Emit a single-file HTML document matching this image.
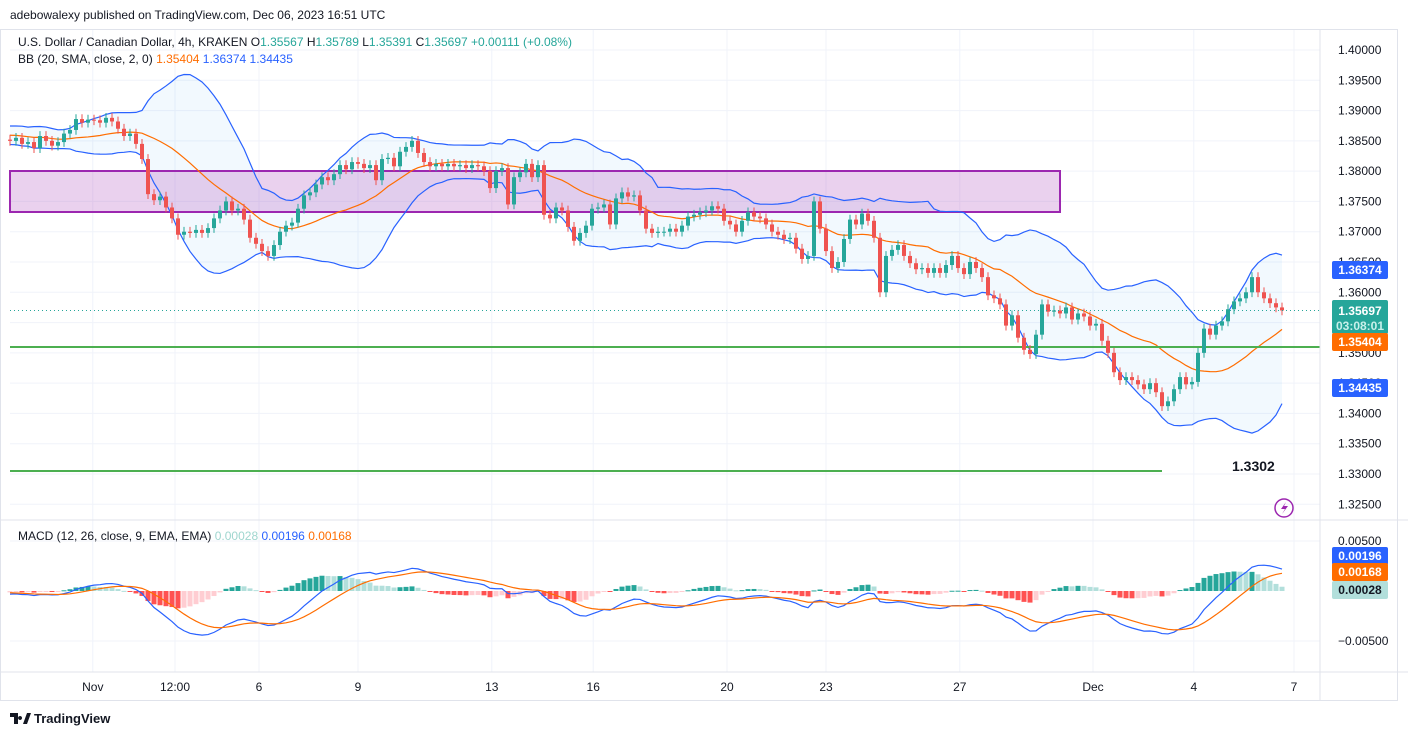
<!DOCTYPE html>
<html><head><meta charset="utf-8"><style>
body{margin:0;background:#fff;font-family:"Liberation Sans",sans-serif;}
svg{display:block}
</style></head><body>
<svg id="c" width="1408" height="737" xmlns="http://www.w3.org/2000/svg" font-family="Liberation Sans, sans-serif"></svg>
<script>
const warmup=[1.3862,1.3858,1.3866,1.3870,1.3860,1.3855,1.3864,1.3872,1.3868,1.3860,1.3852,1.3858,1.3866,1.3870,1.3862,1.3855,1.3848,1.3852,1.3846,1.3852];
const closes=[1.3850,1.3855,1.3845,1.3848,1.3838,1.3858,1.3850,1.3842,1.3848,1.3862,1.3868,1.3886,1.3880,1.3885,1.3884,1.3880,1.3888,1.3882,1.3870,1.3858,
1.3862,1.3845,1.3820,1.3762,1.3752,1.3758,1.3740,1.3722,1.3695,1.3700,1.3698,1.3703,1.3698,1.3706,1.3722,1.3735,1.3750,1.3735,1.3738,1.3720,
1.3690,1.3680,1.3668,1.3660,1.3678,1.3700,1.3710,1.3715,1.3738,1.3760,1.3765,1.3778,1.3790,1.3785,1.3795,1.3810,1.3803,1.3815,1.3812,1.3805,
1.3810,1.3785,1.3820,1.3822,1.3808,1.3832,1.3840,1.3850,1.3830,1.3815,1.3808,1.3812,1.3808,1.3812,1.3808,1.3810,1.3805,1.3810,1.3808,1.3800,
1.3772,1.3800,1.3805,1.3745,1.3790,1.3798,1.3812,1.3790,1.3810,1.3728,1.3722,1.3740,1.3735,1.3708,1.3685,1.3698,1.3710,1.3738,1.3740,1.3745,
1.3712,1.3755,1.3765,1.3758,1.3760,1.3735,1.3705,1.3698,1.3700,1.3700,1.3705,1.3700,1.3710,1.3725,1.3728,1.3732,1.3735,1.3742,1.3738,1.3718,
1.3712,1.3700,1.3718,1.3732,1.3725,1.3722,1.3712,1.3700,1.3695,1.3688,1.3690,1.3672,1.3655,1.3660,1.3750,1.3705,1.3668,1.3640,1.3650,1.3688,
1.3720,1.3712,1.3730,1.3718,1.3690,1.3600,1.3660,1.3670,1.3678,1.3660,1.3648,1.3638,1.3640,1.3632,1.3640,1.3632,1.3645,1.3660,1.3640,1.3630,
1.3650,1.3640,1.3625,1.3595,1.3590,1.3580,1.3545,1.3562,1.3525,1.3505,1.3498,1.3530,1.3580,1.3568,1.3570,1.3565,1.3575,1.3555,1.3565,1.3560,
1.3545,1.3548,1.3520,1.3500,1.3468,1.3455,1.3460,1.3455,1.3448,1.3440,1.3450,1.3435,1.3412,1.3420,1.3440,1.3460,1.3448,1.3452,1.3500,1.3540,
1.3530,1.3545,1.3552,1.3572,1.3585,1.3590,1.3600,1.3625,1.3600,1.3590,1.3582,1.3575,1.3570];
const priceTicks=[1.40,1.395,1.39,1.385,1.38,1.375,1.37,1.365,1.36,1.355,1.35,1.345,1.34,1.335,1.33,1.325];
const macdTicks=[0.005,-0.005];
const dateLabels=["Nov","12:00","6","9","13","16","20","23","27","Dec","4","7"];
const dateIdx=[13.8,27.5,41.5,58,80.3,97.2,119.5,136,158.3,180.5,197.3,214];

const S=document.getElementById('c');const NS='http://www.w3.org/2000/svg';
function el(t,a,p){const e=document.createElementNS(NS,t);for(const k in a)e.setAttribute(k,a[k]);(p||S).appendChild(e);return e;}
const py=p=>50+(1.40-p)*6057;
const my=v=>591-v*10000;
const xi=i=>10+6*i;
const ALL=warmup.concat(closes);const W=warmup.length;
// grid
priceTicks.forEach(p=>{el('line',{x1:10,x2:1320,y1:py(p),y2:py(p),stroke:'#f0f3fa'});
const t=el('text',{x:1338,y:py(p)+4,'font-size':12,fill:'#131722'});t.textContent=p.toFixed(5);
});
macdTicks.forEach(v=>{el('line',{x1:10,x2:1320,y1:my(v),y2:my(v),stroke:'#f0f3fa'});
const t=el('text',{x:1338,y:my(v)+4,'font-size':12,fill:'#131722'});t.textContent=v.toFixed(5).replace('-','−');
});
dateLabels.forEach((d,k)=>{const x=xi(dateIdx[k]);el('line',{x1:x,x2:x,y1:30,y2:672,stroke:'#f0f3fa'});
const t=el('text',{x:x,y:691,'font-size':12,fill:'#131722','text-anchor':'middle'});t.textContent=d;
});
// bollinger
const mid=[],up=[],lo=[];
closes.forEach((c,i)=>{const w=ALL.slice(i+W-19,i+W+1);const m=w.reduce((a,b)=>a+b,0)/w.length;
const sd=Math.sqrt(w.reduce((a,b)=>a+(b-m)*(b-m),0)/w.length);mid.push(m);up.push(m+2*sd);lo.push(m-2*sd);});
let fill='';up.forEach((v,i)=>fill+=(i?'L':'M')+xi(i)+','+py(v));for(let i=lo.length-1;i>=0;i--)fill+='L'+xi(i)+','+py(lo[i]);
const bf=el('path',{d:fill+'Z',fill:'rgba(33,150,243,0.06)'});
const line=(arr,f,col,name)=>{let d='';arr.forEach((v,i)=>d+=(i?'L':'M')+xi(i)+','+f(v));const p=el('path',{d:d,fill:'none',stroke:col,'stroke-width':1.2});};
// zones
const z=el('rect',{x:10,y:171,width:1050,height:41,fill:'rgba(186,104,200,0.3)',stroke:'#9c27b0','stroke-width':2});

line(up,py,'#2962ff','bb-upper');line(lo,py,'#2962ff','bb-lower');line(mid,py,'#ff6d00','bb-basis');
const g1=el('line',{x1:10,x2:1320,y1:347,y2:347,stroke:'#4caf50','stroke-width':2});
const g2=el('line',{x1:10,x2:1162,y1:471,y2:471,stroke:'#4caf50','stroke-width':2});
// candles
closes.forEach((c,i)=>{const o=i?closes[i-1]:warmup[W-1];const up_=c>=o;const col=up_?'#26a69a':'#ef5350';
const hi=Math.max(o,c)+0.0008,lw=Math.min(o,c)-0.0008;const x=xi(i);
const g=el('g',{});
el('line',{x1:x,x2:x,y1:py(hi),y2:py(lw),stroke:col},g);
el('rect',{x:x-2,y:py(Math.max(o,c)),width:4,height:Math.max(1,Math.abs(py(o)-py(c))),fill:col},g);});
const last=closes[closes.length-1];
el('line',{x1:10,x2:1320,y1:py(last),y2:py(last),stroke:'#26a69a','stroke-dasharray':'1,3'});
// MACD
function ema(a,n){const k=2/(n+1);const r=[a[0]];for(let i=1;i<a.length;i++)r.push(a[i]*k+r[i-1]*(1-k));return r;}
const e12=ema(ALL,12),e26=ema(ALL,26);const macdAll=e12.map((v,i)=>v-e26[i]);const sigAll=ema(macdAll,9);
const macd=macdAll.slice(W),sig=sigAll.slice(W);
macd.forEach((m,i)=>{const h=m-sig[i];const ph=i?macd[i-1]-sig[i-1]:h;let col;
if(h>=0)col=h>=ph?'#26a69a':'#b2dfdb';else col=h<ph?'#ff5252':'#ffcdd2';
const r=el('rect',{x:xi(i)-2.5,y:Math.min(my(h),my(0)),width:5,height:Math.max(1,Math.abs(my(h)-my(0))),fill:col});
});
line(macd,my,'#2962ff','macd-line');line(sig,my,'#ff6d00','signal-line');
// panes borders
el('line',{x1:0,x2:1408,y1:520,y2:520,stroke:'#e0e3eb'});
el('line',{x1:0,x2:1408,y1:672,y2:672,stroke:'#e0e3eb'});
el('line',{x1:1320,x2:1320,y1:30,y2:700,stroke:'#e0e3eb'});
el('rect',{x:0.5,y:29.5,width:1397,height:671,fill:'none',stroke:'#e0e3eb'});
// labels
function lab(y,txt,bg,fg,name,h){const g=el('g',{});
el('rect',{x:1332,y:y-(h||18)/2,width:56,height:h||18,rx:2,fill:bg},g);
const t=el('text',{x:1360,y:y+4,'font-size':12,fill:fg,'text-anchor':'middle','font-weight':'bold'},g);t.textContent=txt;return g;}
lab(270,'1.36374','#2962ff','#fff','bb-upper-label');
const cg=lab(317,'1.35697','#26a69a','#fff','last-price-label',34);cg.querySelector('text').setAttribute('y',315);
const ct=el('text',{x:1360,y:330,'font-size':12,fill:'#c8f0ea','text-anchor':'middle','font-weight':'bold'},cg);ct.textContent='03:08:01';
lab(342,'1.35404','#ff6d00','#fff','bb-basis-label');
lab(388,'1.34435','#2962ff','#fff','bb-lower-label');
lab(556,'0.00196','#2962ff','#fff','macd-label');
lab(572,'0.00168','#ff6d00','#fff','signal-label');
lab(590,'0.00028','#b2dfdb','#131722','histogram-label');
function txt(x,y,s,sz,col,name,w){const t=el('text',{x:x,y:y,'font-size':sz,fill:col,'font-weight':w||'normal'});t.textContent=s;return t;}
txt(10,19,'adebowalexy published on TradingView.com, Dec 06, 2023 16:51 UTC',12,'#131722','publish-info');
const h=el('text',{x:18,y:46,'font-size':12,fill:'#131722'});
h.innerHTML='U.S. Dollar / Canadian Dollar, 4h, KRAKEN  O<tspan fill="#26a69a">1.35567</tspan> H<tspan fill="#26a69a">1.35789</tspan> L<tspan fill="#26a69a">1.35391</tspan> C<tspan fill="#26a69a">1.35697 +0.00111 (+0.08%)</tspan>';
const b=el('text',{x:18,y:63,'font-size':12,fill:'#131722'});
b.innerHTML='BB (20, SMA, close, 2, 0)  <tspan fill="#ff6d00">1.35404</tspan>  <tspan fill="#2962ff">1.36374</tspan>  <tspan fill="#2962ff">1.34435</tspan>';
const m=el('text',{x:18,y:540,'font-size':12,fill:'#131722'});
m.innerHTML='MACD (12, 26, close, 9, EMA, EMA)  <tspan fill="#9fd6cf">0.00028</tspan>  <tspan fill="#2962ff">0.00196</tspan>  <tspan fill="#ff6d00">0.00168</tspan>';
txt(1232,471,'1.3302',14,'#131722','target-price-text','bold');
const ic=el('g',{});
el('circle',{cx:1284,cy:508,r:9,fill:'none',stroke:'#9c27b0','stroke-width':1.5},ic);
el('path',{d:'M1286,502 L1281,509 L1285,509 L1282,514 L1288,506 L1284,506 Z',fill:'#9c27b0'},ic);
const lg=el('g',{});
el('path',{d:'M10,713 h8 v11 h-4 v-7 h-4 Z M20,716 a2,2 0 1,0 0.1,0 Z M23,724 l4,-11 h4 l-4,11 Z',fill:'#131722'},lg);
const lt=el('text',{x:34,y:723,'font-size':13,fill:'#131722','font-weight':'bold'},lg);lt.textContent='TradingView';
</script>
</body></html>
